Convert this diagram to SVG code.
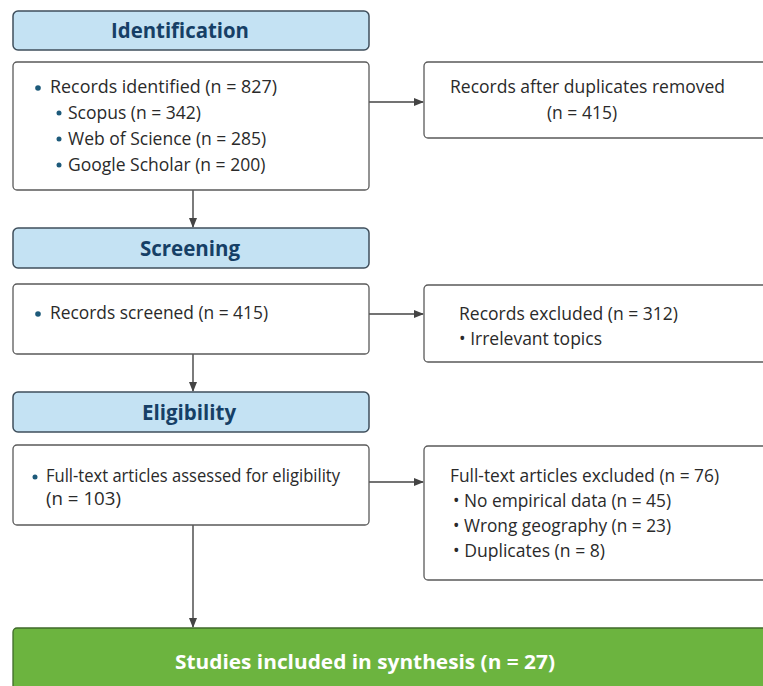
<svg xmlns="http://www.w3.org/2000/svg" width="763" height="686" viewBox="0 0 763 686">
<style>
.hdr{fill:#c4e2f3;stroke:#3f4f5c;stroke-width:1.5}
.box{fill:#fff;stroke:#5a5a5a;stroke-width:1.3}
.ht{font-family:"Open Sans","Noto Sans",sans-serif;font-weight:bold;font-size:20.5px;fill:#163f66;text-anchor:middle}
.t{font-family:"Open Sans","Noto Sans",sans-serif;font-size:17.5px;fill:#2a2a2a}
.c{font-family:"Open Sans","Noto Sans",sans-serif;font-size:18px;fill:#2a2a2a}
.dot{fill:#1d5a7a}
.ln{stroke:#444;stroke-width:1.4;fill:none}
</style>
<defs>
<marker id="ah" markerWidth="10" markerHeight="10" refX="9" refY="5" orient="auto" markerUnits="userSpaceOnUse">
<path d="M0,1 L10,5 L0,9 Z" fill="#444"/>
</marker>
</defs>
<rect width="763" height="686" fill="#fff"/>
<g id="connectors">
<line class="ln" x1="193" y1="190" x2="193" y2="227" marker-end="url(#ah)"/>
<line class="ln" x1="369" y1="102" x2="423" y2="102" marker-end="url(#ah)"/>
<line class="ln" x1="193" y1="354" x2="193" y2="391" marker-end="url(#ah)"/>
<line class="ln" x1="369" y1="314" x2="423" y2="314" marker-end="url(#ah)"/>
<line class="ln" x1="369" y1="482" x2="423" y2="482" marker-end="url(#ah)"/>
<line class="ln" x1="193" y1="525" x2="193" y2="627" marker-end="url(#ah)"/>
</g>
<g id="identification">
<rect class="hdr" x="13" y="11" width="356" height="39" rx="5"/>
<text class="ht" x="180" y="38" textLength="138" lengthAdjust="spacingAndGlyphs">Identification</text>
</g>
<g id="records-identified">
<rect class="box" x="13" y="62" width="356" height="128" rx="4"/>
<circle class="dot" cx="38" cy="88" r="2.8"/>
<text class="t" x="50" y="93" textLength="227" lengthAdjust="spacingAndGlyphs">Records identified (n = 827)</text>
<circle class="dot" cx="59" cy="113" r="2.5"/>
<text class="t" x="68" y="119">Scopus (n = 342)</text>
<circle class="dot" cx="59" cy="139" r="2.5"/>
<text class="t" x="68" y="145">Web of Science (n = 285)</text>
<circle class="dot" cx="59" cy="165" r="2.5"/>
<text class="t" x="68" y="171">Google Scholar (n = 200)</text>
</g>
<g id="duplicates-removed">
<rect class="box" x="424" y="62" width="345" height="76" rx="4"/>
<text class="t" x="450" y="93" textLength="275" lengthAdjust="spacingAndGlyphs">Records after duplicates removed</text>
<text class="t" x="582" y="119" text-anchor="middle">(n = 415)</text>
</g>
<g id="screening">
<rect class="hdr" x="13" y="228" width="356" height="40" rx="5"/>
<text class="ht" x="190" y="256">Screening</text>
</g>
<g id="records-screened">
<rect class="box" x="13" y="284" width="356" height="70" rx="4"/>
<circle class="dot" cx="38" cy="314" r="2.8"/>
<text class="t" x="50" y="319" textLength="218" lengthAdjust="spacingAndGlyphs">Records screened (n = 415)</text>
</g>
<g id="records-excluded">
<rect class="box" x="424" y="285" width="345" height="77" rx="4"/>
<text class="t" x="459" y="320" textLength="219" lengthAdjust="spacingAndGlyphs">Records excluded (n = 312)</text>
<text class="t" x="459" y="345">• Irrelevant topics</text>
</g>
<g id="eligibility">
<rect class="hdr" x="13" y="392" width="356" height="40" rx="5"/>
<text class="ht" x="189" y="420">Eligibility</text>
</g>
<g id="full-text-assessed">
<rect class="box" x="13" y="445" width="356" height="80" rx="4"/>
<circle class="dot" cx="35" cy="477" r="2.5"/>
<text class="c" x="46" y="482" textLength="294" lengthAdjust="spacingAndGlyphs">Full-text articles assessed for eligibility</text>
<text class="c" x="46" y="505" textLength="75" lengthAdjust="spacingAndGlyphs">(n = 103)</text>
</g>
<g id="full-text-excluded">
<rect class="box" x="424" y="446" width="345" height="134" rx="4"/>
<text class="c" x="450" y="482" textLength="269" lengthAdjust="spacingAndGlyphs">Full-text articles excluded (n = 76)</text>
<text class="c" x="453" y="507" textLength="218" lengthAdjust="spacingAndGlyphs">• No empirical data (n = 45)</text>
<text class="c" x="453" y="532" textLength="218" lengthAdjust="spacingAndGlyphs">• Wrong geography (n = 23)</text>
<text class="c" x="453" y="557" textLength="152" lengthAdjust="spacingAndGlyphs">• Duplicates (n = 8)</text>
</g>
<g id="included">
<rect x="13" y="628" width="760" height="70" rx="4" fill="#6cb43f" stroke="#3f6a2a" stroke-width="1.3"/>
<text x="365" y="669" text-anchor="middle" font-family="'Open Sans','Noto Sans',sans-serif" font-weight="bold" font-size="19px" fill="#fff" textLength="380" lengthAdjust="spacingAndGlyphs">Studies included in synthesis (n = 27)</text>
</g>
</svg>
